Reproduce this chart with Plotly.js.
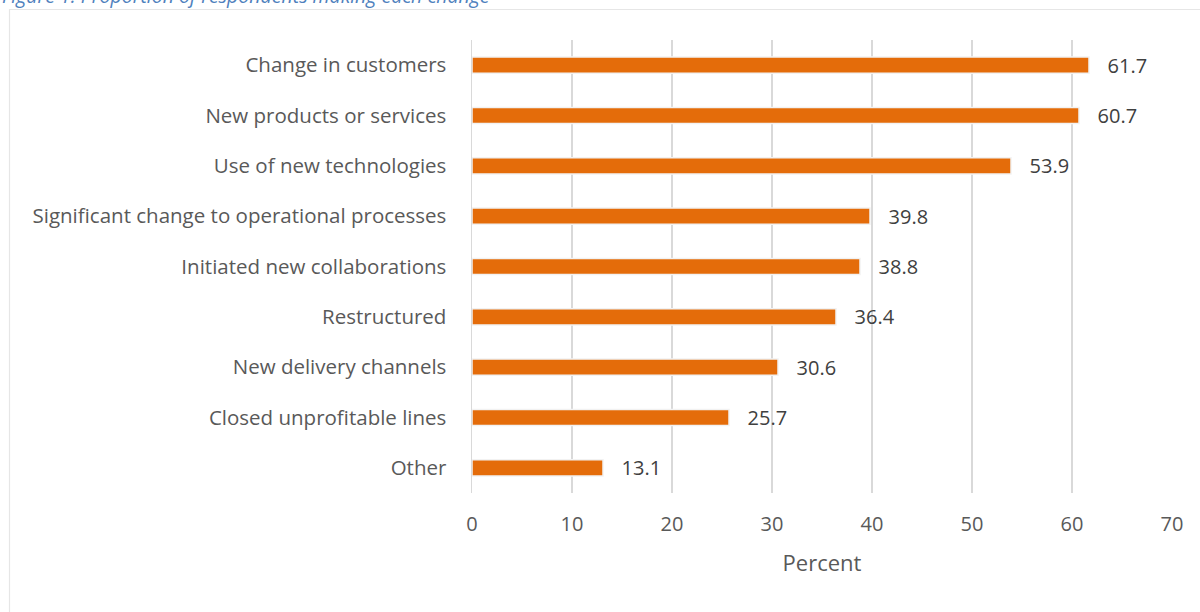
<!DOCTYPE html>
<html>
<head>
<meta charset="utf-8">
<script src="https://cdn.plot.ly/plotly-3.0.1.min.js"></script>
<style>
html,body{margin:0;padding:0;background:#fff;overflow:hidden;}
#chart{width:1200px;height:612px;}
</style>
</head>
<body>
<div id="chart"></div>
<script>
const categories = [
  "Change in customers",
  "New products or services",
  "Use of new technologies",
  "Significant change to operational processes",
  "Initiated new collaborations",
  "Restructured",
  "New delivery channels",
  "Closed unprofitable lines",
  "Other"
];
const percentValues = [61.7, 60.7, 53.9, 39.8, 38.8, 36.4, 30.6, 25.7, 13.1];
const xTicks = [0, 10, 20, 30, 40, 50, 60, 70];
const figureTitle = "Figure 1: Proportion of respondents making each change";
const xAxisTitle = "Percent";

const FONT = "Open Sans, Noto Sans, sans-serif";
const L = 472, R = 28, T = 40, B = 119;
const W = 1200, H = 612;
const pw = W - L - R, ph = H - T - B;
const px2x = p => (p - L) / pw;
const py2y = p => (H - B - p) / ph;

const trace = {
  type: "bar",
  orientation: "h",
  y: categories,
  x: percentValues,
  marker: {color: "#E46C0A", line: {color: "#F2F2F2", width: 1.5}},
  width: 0.32,
  text: percentValues.map(v => v.toFixed(1)),
  texttemplate: "   %{text}",
  textposition: "outside",
  constraintext: "none",
  textfont: {family: FONT, size: 20, color: "#404040"},
  cliponaxis: false,
  hoverinfo: "skip"
};

const layout = {
  width: W, height: H,
  margin: {l: L, r: R, t: T, b: B, pad: 0},
  paper_bgcolor: "#ffffff",
  plot_bgcolor: "#ffffff",
  showlegend: false,
  font: {family: FONT, size: 20, color: "#595959"},
  xaxis: {
    range: [0, 70],
    tickvals: xTicks,
    ticktext: xTicks.map(String),
    showgrid: true,
    gridcolor: "#D9D9D9",
    gridwidth: 1.5,
    zeroline: false,
    showline: false,
    ticks: "",
    ticklabelstandoff: 17,
    tickfont: {family: FONT, size: 20, color: "#595959"},
    title: {text: xAxisTitle, font: {family: FONT, size: 22, color: "#595959"}, standoff: 19},
    fixedrange: true
  },
  yaxis: {
    autorange: "reversed",
    showgrid: false,
    zeroline: false,
    showline: true,
    linecolor: "#D9D9D9",
    linewidth: 1.5,
    ticks: "",
    ticklabelstandoff: 20,
    tickfont: {family: FONT, size: 20.5, color: "#595959"},
    fixedrange: true
  },
  shapes: [
    {type: "rect", xref: "paper", yref: "paper",
     x0: px2x(9.5), x1: px2x(1215), y0: py2y(640), y1: py2y(9.5),
     line: {color: "#E6E6E6", width: 1.2}, fillcolor: "rgba(0,0,0,0)", layer: "below"}
  ],
  annotations: [
    {text: "<i>" + figureTitle + "</i>", xref: "paper", yref: "paper",
     x: px2x(492), y: py2y(11), xanchor: "right", yanchor: "bottom",
     showarrow: false, font: {family: FONT, size: 19.5, color: "#4F81BD"}}
  ]
};

Plotly.newPlot("chart", [trace], layout, {displayModeBar: false, staticPlot: true});
</script>
</body>
</html>
